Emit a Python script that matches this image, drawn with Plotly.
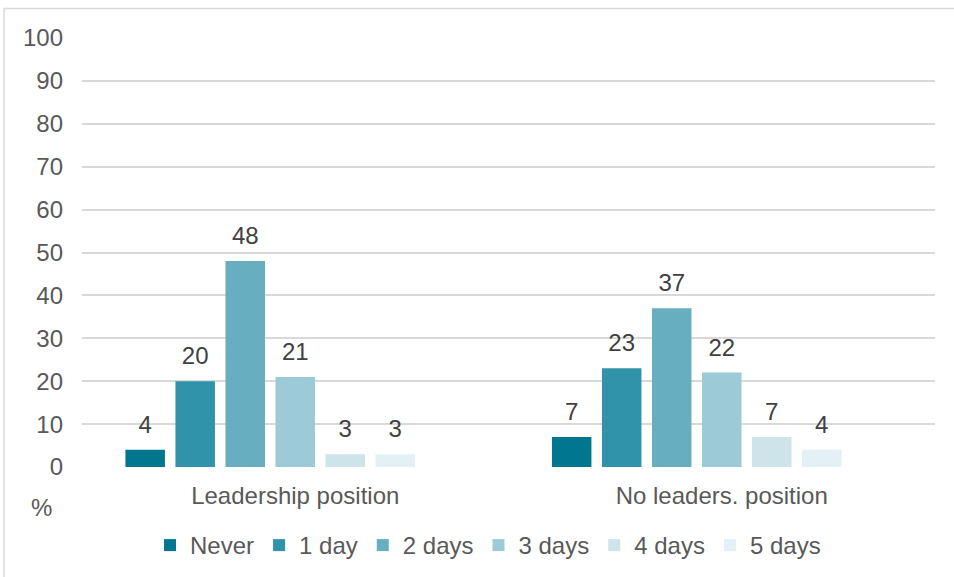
import plotly.graph_objects as go

categories = ["Leadership position", "No leaders. position"]
series_names = ["Never", "1 day", "2 days", "3 days", "4 days", "5 days"]
never = [4, 7]
day1 = [20, 23]
day2 = [48, 37]
day3 = [21, 22]
day4 = [3, 7]
day5 = [3, 4]
series_values = [never, day1, day2, day3, day4, day5]
colors = ["#00778F", "#3193AA", "#67AEC0", "#9CCAD6", "#CDE4EA", "#E3F0F5"]
y_ticks = list(range(0, 101, 10))

FONT = "Liberation Sans, Arial, sans-serif"
fig = go.Figure()

for name, vals, col in zip(series_names, series_values, colors):
    fig.add_trace(go.Bar(
        x=categories, y=vals, name=name,
        marker=dict(color=col, line=dict(width=0)),
        hoverinfo="skip",
    ))
# empty spacer slot (the source chart reserves a seventh, empty series slot)
fig.add_trace(go.Bar(x=categories, y=[0, 0], showlegend=False,
                     marker=dict(color="rgba(0,0,0,0)", line=dict(width=0)),
                     hoverinfo="skip"))

# data labels as grouped text points above the bars
for name, vals in zip(series_names, series_values):
    fig.add_trace(go.Scatter(
        x=categories, y=vals, mode="markers+text",
        text=[str(v) for v in vals], textposition="top center",
        textfont=dict(family=FONT, size=24, color="#404040"),
        marker=dict(size=16, opacity=0),
        showlegend=False, hoverinfo="skip", cliponaxis=False,
    ))
fig.add_trace(go.Scatter(x=categories, y=[0, 0], mode="markers",
                         marker=dict(size=1, opacity=0),
                         showlegend=False, hoverinfo="skip"))

fig.update_layout(
    width=954, height=577,
    margin=dict(l=82, r=19, t=38, b=110, autoexpand=False),
    paper_bgcolor="white", plot_bgcolor="white",
    barmode="group", bargap=0.179, bargroupgap=0.21,
    scattermode="group",
    font=dict(family=FONT, size=24, color="#595959"),
    showlegend=True,
    legend=dict(orientation="h", x=0.476, xanchor="center", y=-0.183, yanchor="middle",
                font=dict(family=FONT, size=24, color="#595959"),
                itemclick=False, itemdoubleclick=False, traceorder="normal"),
    xaxis=dict(showgrid=False, zeroline=False, showline=False, ticks="",
               ticklabelstandoff=12, automargin=False,
               tickfont=dict(family=FONT, size=24, color="#595959")),
    yaxis=dict(range=[0, 100], tickvals=y_ticks, showgrid=True, gridcolor="#D9D9D9",
               gridwidth=1.5, zeroline=False, showline=False, ticks="",
               ticklabelstandoff=18, automargin=False,
               tickfont=dict(family=FONT, size=24, color="#595959")),
    annotations=[dict(text="%", xref="paper", yref="paper", x=-0.048, y=-0.094,
                      showarrow=False, xanchor="center", yanchor="middle",
                      font=dict(family=FONT, size=24, color="#595959"))],
    shapes=[dict(type="rect", xref="paper", yref="paper",
                 x0=-0.0914, x1=1.2, y0=-0.5, y1=1.069,
                 line=dict(color="#D9D9D9", width=1.5), fillcolor="rgba(0,0,0,0)",
                 layer="below")],
)

fig.write_html("out.html")
